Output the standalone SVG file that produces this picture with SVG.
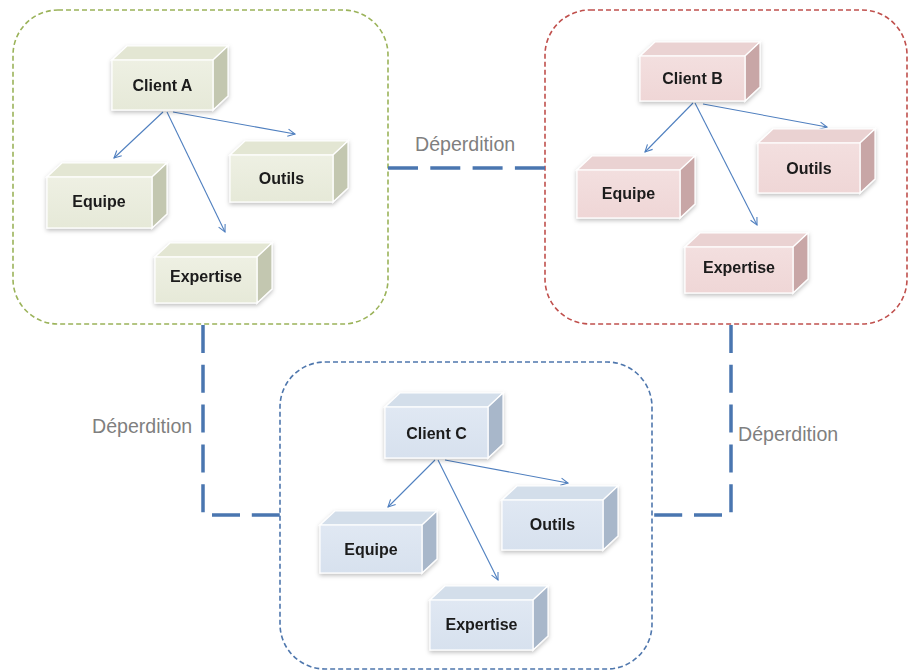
<svg xmlns="http://www.w3.org/2000/svg" width="910" height="672" viewBox="0 0 910 672">
<defs>
<style>
.grp{fill:none;stroke-width:1.6;stroke-dasharray:5 3}
.lnk{fill:none;stroke:#4a76b0;stroke-width:3.5}
.arr{fill:none;stroke:#4f7fbf;stroke-width:1.1;marker-end:url(#ah)}
.lbl{font-family:"Liberation Sans",Arial,sans-serif;font-size:19.6px;fill:#7f7f7f}
.t{font-family:"Liberation Sans",Arial,sans-serif;font-size:16px;font-weight:bold;fill:#1a1a1a;text-anchor:middle}
.edge{stroke:#ffffff;stroke-width:1.2}
.ga .f{fill:url(#gfa)} .ga .tp{fill:#e3e6d3} .ga .sd{fill:#c3c7b0}
.gb .f{fill:url(#gfb)} .gb .tp{fill:#ead2d2} .gb .sd{fill:#c8a6a6}
.gc .f{fill:url(#gfc)} .gc .tp{fill:#d3deea} .gc .sd{fill:#a8b7ca}
</style>
<linearGradient id="gfa" x1="0" y1="0" x2="0" y2="1"><stop offset="0" stop-color="#eef0e3"/><stop offset="1" stop-color="#e6e9d8"/></linearGradient>
<linearGradient id="gfb" x1="0" y1="0" x2="0" y2="1"><stop offset="0" stop-color="#f3dfdf"/><stop offset="1" stop-color="#efd6d6"/></linearGradient>
<linearGradient id="gfc" x1="0" y1="0" x2="0" y2="1"><stop offset="0" stop-color="#e0e8f3"/><stop offset="1" stop-color="#d7e1ee"/></linearGradient>
<filter id="sh" x="-20%" y="-20%" width="140%" height="150%"><feDropShadow dx="0" dy="2" stdDeviation="2" flood-color="#000" flood-opacity="0.25"/></filter>
<marker id="ah" viewBox="0 0 10 10" refX="9" refY="5" markerWidth="9" markerHeight="9" orient="auto" markerUnits="userSpaceOnUse"><path d="M1,1 L9,5 L1,9" fill="none" stroke="#4f7fbf" stroke-width="1.2"/></marker>
</defs>

<rect x="0" y="0" width="910" height="672" fill="#ffffff"/>

<!-- group frames -->
<g id="groupA"><rect class="grp" x="13" y="10" width="375" height="314" rx="45" stroke="#9bb35a"/></g>
<g id="groupB"><rect class="grp" x="545" y="10" width="362" height="314" rx="45" stroke="#c0504d"/></g>
<g id="groupC"><rect class="grp" x="280" y="362" width="372" height="307" rx="45" stroke="#4f77ad"/></g>

<!-- connectors -->
<g id="connectors">
<path class="lnk" d="M388,168 H545" stroke-dasharray="30 12.3"/>
<path class="lnk" d="M203,325 V515 H280" stroke-dasharray="28 11.8"/>
<path class="lnk" d="M731,325 V515 H652" stroke-dasharray="28 11.8"/>
<text class="lbl" x="415" y="151">Déperdition</text>
<text class="lbl" x="92" y="433">Déperdition</text>
<text class="lbl" x="738" y="441">Déperdition</text>
<path class="arr" d="M163,112 L114,158"/>
<path class="arr" d="M167,112 L225,232"/>
<path class="arr" d="M173,112 L295,134"/>
<path class="arr" d="M693,103 L645,152"/>
<path class="arr" d="M695,103 L757,225"/>
<path class="arr" d="M703,104 L827,127"/>
<path class="arr" d="M435,460 L388,507"/>
<path class="arr" d="M438,460 L498,580"/>
<path class="arr" d="M445,460 L568,483"/>
</g>

<!-- nodes group A -->
<g id="clientA" class="ga" filter="url(#sh)">
<path class="tp edge" d="M112,60 L127,46 L228,46 L213,60 Z"/>
<path class="sd edge" d="M213,60 L228,46 L228,96 L213,110 Z"/>
<rect class="f edge" x="112" y="60" width="101" height="50"/>
<text class="t" x="162.5" y="91">Client A</text>
</g>
<g id="outilsA" class="ga" filter="url(#sh)">
<path class="tp edge" d="M230,155 L245,141 L348,141 L333,155 Z"/>
<path class="sd edge" d="M333,155 L348,141 L348,188 L333,202 Z"/>
<rect class="f edge" x="230" y="155" width="103" height="47"/>
<text class="t" x="281.5" y="184">Outils</text>
</g>
<g id="equipeA" class="ga" filter="url(#sh)">
<path class="tp edge" d="M47,177 L62,163 L167,163 L152,177 Z"/>
<path class="sd edge" d="M152,177 L167,163 L167,214 L152,228 Z"/>
<rect class="f edge" x="47" y="177" width="105" height="51"/>
<text class="t" x="99" y="207">Equipe</text>
</g>
<g id="expertiseA" class="ga" filter="url(#sh)">
<path class="tp edge" d="M155,257 L170,243 L272,243 L257,257 Z"/>
<path class="sd edge" d="M257,257 L272,243 L272,289 L257,303 Z"/>
<rect class="f edge" x="155" y="257" width="102" height="46"/>
<text class="t" x="206" y="282">Expertise</text>
</g>

<!-- nodes group B -->
<g id="clientB" class="gb" filter="url(#sh)">
<path class="tp edge" d="M640,56 L655,42 L760,42 L745,56 Z"/>
<path class="sd edge" d="M745,56 L760,42 L760,87 L745,101 Z"/>
<rect class="f edge" x="640" y="56" width="105" height="45"/>
<text class="t" x="692.5" y="84">Client B</text>
</g>
<g id="outilsB" class="gb" filter="url(#sh)">
<path class="tp edge" d="M758,143 L773,129 L875,129 L860,143 Z"/>
<path class="sd edge" d="M860,143 L875,129 L875,179 L860,193 Z"/>
<rect class="f edge" x="758" y="143" width="102" height="50"/>
<text class="t" x="809" y="174">Outils</text>
</g>
<g id="equipeB" class="gb" filter="url(#sh)">
<path class="tp edge" d="M577,170 L592,156 L695,156 L680,170 Z"/>
<path class="sd edge" d="M680,170 L695,156 L695,204 L680,218 Z"/>
<rect class="f edge" x="577" y="170" width="103" height="48"/>
<text class="t" x="628.5" y="199">Equipe</text>
</g>
<g id="expertiseB" class="gb" filter="url(#sh)">
<path class="tp edge" d="M685,247 L700,233 L808,233 L793,247 Z"/>
<path class="sd edge" d="M793,247 L808,233 L808,279 L793,293 Z"/>
<rect class="f edge" x="685" y="247" width="108" height="46"/>
<text class="t" x="739" y="273">Expertise</text>
</g>

<!-- nodes group C -->
<g id="clientC" class="gc" filter="url(#sh)">
<path class="tp edge" d="M385,407 L400,393 L503,393 L488,407 Z"/>
<path class="sd edge" d="M488,407 L503,393 L503,444 L488,458 Z"/>
<rect class="f edge" x="385" y="407" width="103" height="51"/>
<text class="t" x="436.5" y="439">Client C</text>
</g>
<g id="outilsC" class="gc" filter="url(#sh)">
<path class="tp edge" d="M502,500 L517,486 L618,486 L603,500 Z"/>
<path class="sd edge" d="M603,500 L618,486 L618,536 L603,550 Z"/>
<rect class="f edge" x="502" y="500" width="101" height="50"/>
<text class="t" x="552.5" y="530">Outils</text>
</g>
<g id="equipeC" class="gc" filter="url(#sh)">
<path class="tp edge" d="M320,525 L335,511 L437,511 L422,525 Z"/>
<path class="sd edge" d="M422,525 L437,511 L437,559 L422,573 Z"/>
<rect class="f edge" x="320" y="525" width="102" height="48"/>
<text class="t" x="371" y="555">Equipe</text>
</g>
<g id="expertiseC" class="gc" filter="url(#sh)">
<path class="tp edge" d="M430,600 L445,586 L548,586 L533,600 Z"/>
<path class="sd edge" d="M533,600 L548,586 L548,636 L533,650 Z"/>
<rect class="f edge" x="430" y="600" width="103" height="50"/>
<text class="t" x="481.5" y="630">Expertise</text>
</g>
</svg>
